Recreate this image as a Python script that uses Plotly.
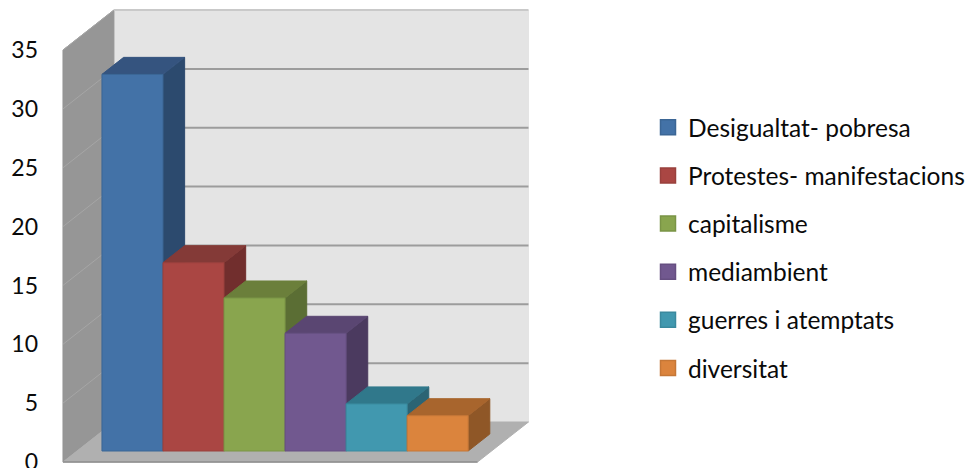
import plotly.graph_objects as go

# Data
categories = ["Desigualtat- pobresa", "Protestes- manifestacions", "capitalisme",
              "mediambient", "guerres i atemptats", "diversitat"]
values = [32, 16, 13, 10, 4, 3]
tick_values = [0, 5, 10, 15, 20, 25, 30, 35]

front_colors = ["#4372a7", "#aa4643", "#89a54e", "#71588f", "#4198af", "#db843d"]
edge_colors = ["#3b6695", "#99403d", "#7a9446", "#664f81", "#3a899e", "#c57737"]
side_colors = ["#2c4a6e", "#712e2d", "#5b6e34", "#4b3a5f", "#2b6474", "#8f5727"]
top_colors = ["#35547f", "#843a37", "#6b7f3b", "#5a4672", "#30788b", "#a8652d"]

# Oblique projection of the 3-D box, in axis units
PX_PER_CAT = 61.1
PX_PER_VAL = 11.77
DX = 51 / PX_PER_CAT        # horizontal shift of the full depth
DY = 40 / PX_PER_VAL        # vertical shift of the full depth
FLOOR_W = 415 / PX_PER_CAT  # width of the box
GAP = 25 / PX_PER_CAT       # gap before the first bar
D0, D1 = 0.275, 0.70        # depth of bar front / bar back


def proj(u, v, d):
    return u + d * DX, v + d * DY


def poly(points):
    xy = [proj(*p) for p in points]
    xy.append(xy[0])
    return [p[0] for p in xy], [p[1] for p in xy]


def face(points, color, edge=None, **kw):
    x, y = poly(points)
    return go.Scatter(x=x, y=y, mode="lines", fill="toself", fillcolor=color,
                      line=dict(color=edge or color, width=1),
                      hoverinfo="skip", showlegend=False, **kw)


def polyline(points, color, width):
    xy = [proj(*p) for p in points]
    return go.Scatter(x=[p[0] for p in xy], y=[p[1] for p in xy], mode="lines",
                      line=dict(color=color, width=width),
                      hoverinfo="skip", showlegend=False)


top = tick_values[-1]
fig = go.Figure()

# Walls and floor
fig.add_trace(face([(0, 0, 1), (FLOOR_W, 0, 1), (FLOOR_W, top, 1), (0, top, 1)], "#e4e4e4"))
fig.add_trace(face([(0, 0, 0), (0, 0, 1), (0, top, 1), (0, top, 0)], "#969696"))
fig.add_trace(face([(0, 0, 0), (FLOOR_W, 0, 0), (FLOOR_W, 0, 1), (0, 0, 1)], "#b0b0b0"))
fig.add_trace(polyline([(0, 0, 0), (FLOOR_W, 0, 0)], "#8e8e8e", 1.5))

# Gridlines
for t in tick_values[1:]:
    fig.add_trace(polyline([(0, t, 0), (0, t, 1)], "#a6a6a6", 1))
    fig.add_trace(polyline([(0, t, 1), (FLOOR_W, t, 1)],
                           "#c9c9c9" if t == top else "#9c9c9c", 2))

# Bars
for i, (name, val) in enumerate(zip(categories, values)):
    u0, u1 = GAP + i, GAP + i + 1
    fig.add_trace(face([(u1, 0, D0), (u1, 0, D1), (u1, val, D1), (u1, val, D0)],
                       side_colors[i], legendgroup=name))
    fig.add_trace(face([(u0, val, D0), (u1, val, D0), (u1, val, D1), (u0, val, D1)],
                       top_colors[i], legendgroup=name))
    fig.add_trace(face([(u0, 0, D0), (u1, 0, D0), (u1, val, D0), (u0, val, D0)],
                       front_colors[i], edge=edge_colors[i], legendgroup=name))

# Legend entries
for i, name in enumerate(categories):
    fig.add_trace(go.Scatter(x=[None], y=[None], mode="markers", name=name, legendgroup=name,
                             marker=dict(symbol="square", size=15, color=front_colors[i],
                                         line=dict(color=edge_colors[i], width=1.5))))

LEFT = 39
RIGHT = 10
fig.update_layout(
    width=970, height=468, autosize=False,
    margin=dict(l=LEFT, r=RIGHT, t=0, b=0),
    paper_bgcolor="white", plot_bgcolor="white",
    font=dict(family="Lato", size=24, color="#0a0a0a"),
    legend=dict(x=0.6728, y=0.776, xanchor="left", yanchor="top",
                bgcolor="rgba(0,0,0,0)", tracegroupgap=13.3,
                indentation=-10, font=dict(family="Lato", size=24.5, color="#0a0a0a")),
    hovermode=False,
)
fig.update_xaxes(range=[(LEFT - 63) / PX_PER_CAT, (970 - RIGHT - 63) / PX_PER_CAT], visible=False,
                 automargin=False)
fig.update_yaxes(range=[-6 / PX_PER_VAL, 462 / PX_PER_VAL], tickvals=tick_values,
                 ticktext=[str(t) for t in tick_values], showgrid=False, zeroline=False,
                 showline=False, ticks="", ticklabeloverflow="allow", automargin=False,
                 tickfont=dict(family="Lato", size=23, color="#0a0a0a"))

fig.write_html("out.html", post_script="document.body.style.margin='0';document.body.style.overflow='hidden';",
               config={"displayModeBar": False})
